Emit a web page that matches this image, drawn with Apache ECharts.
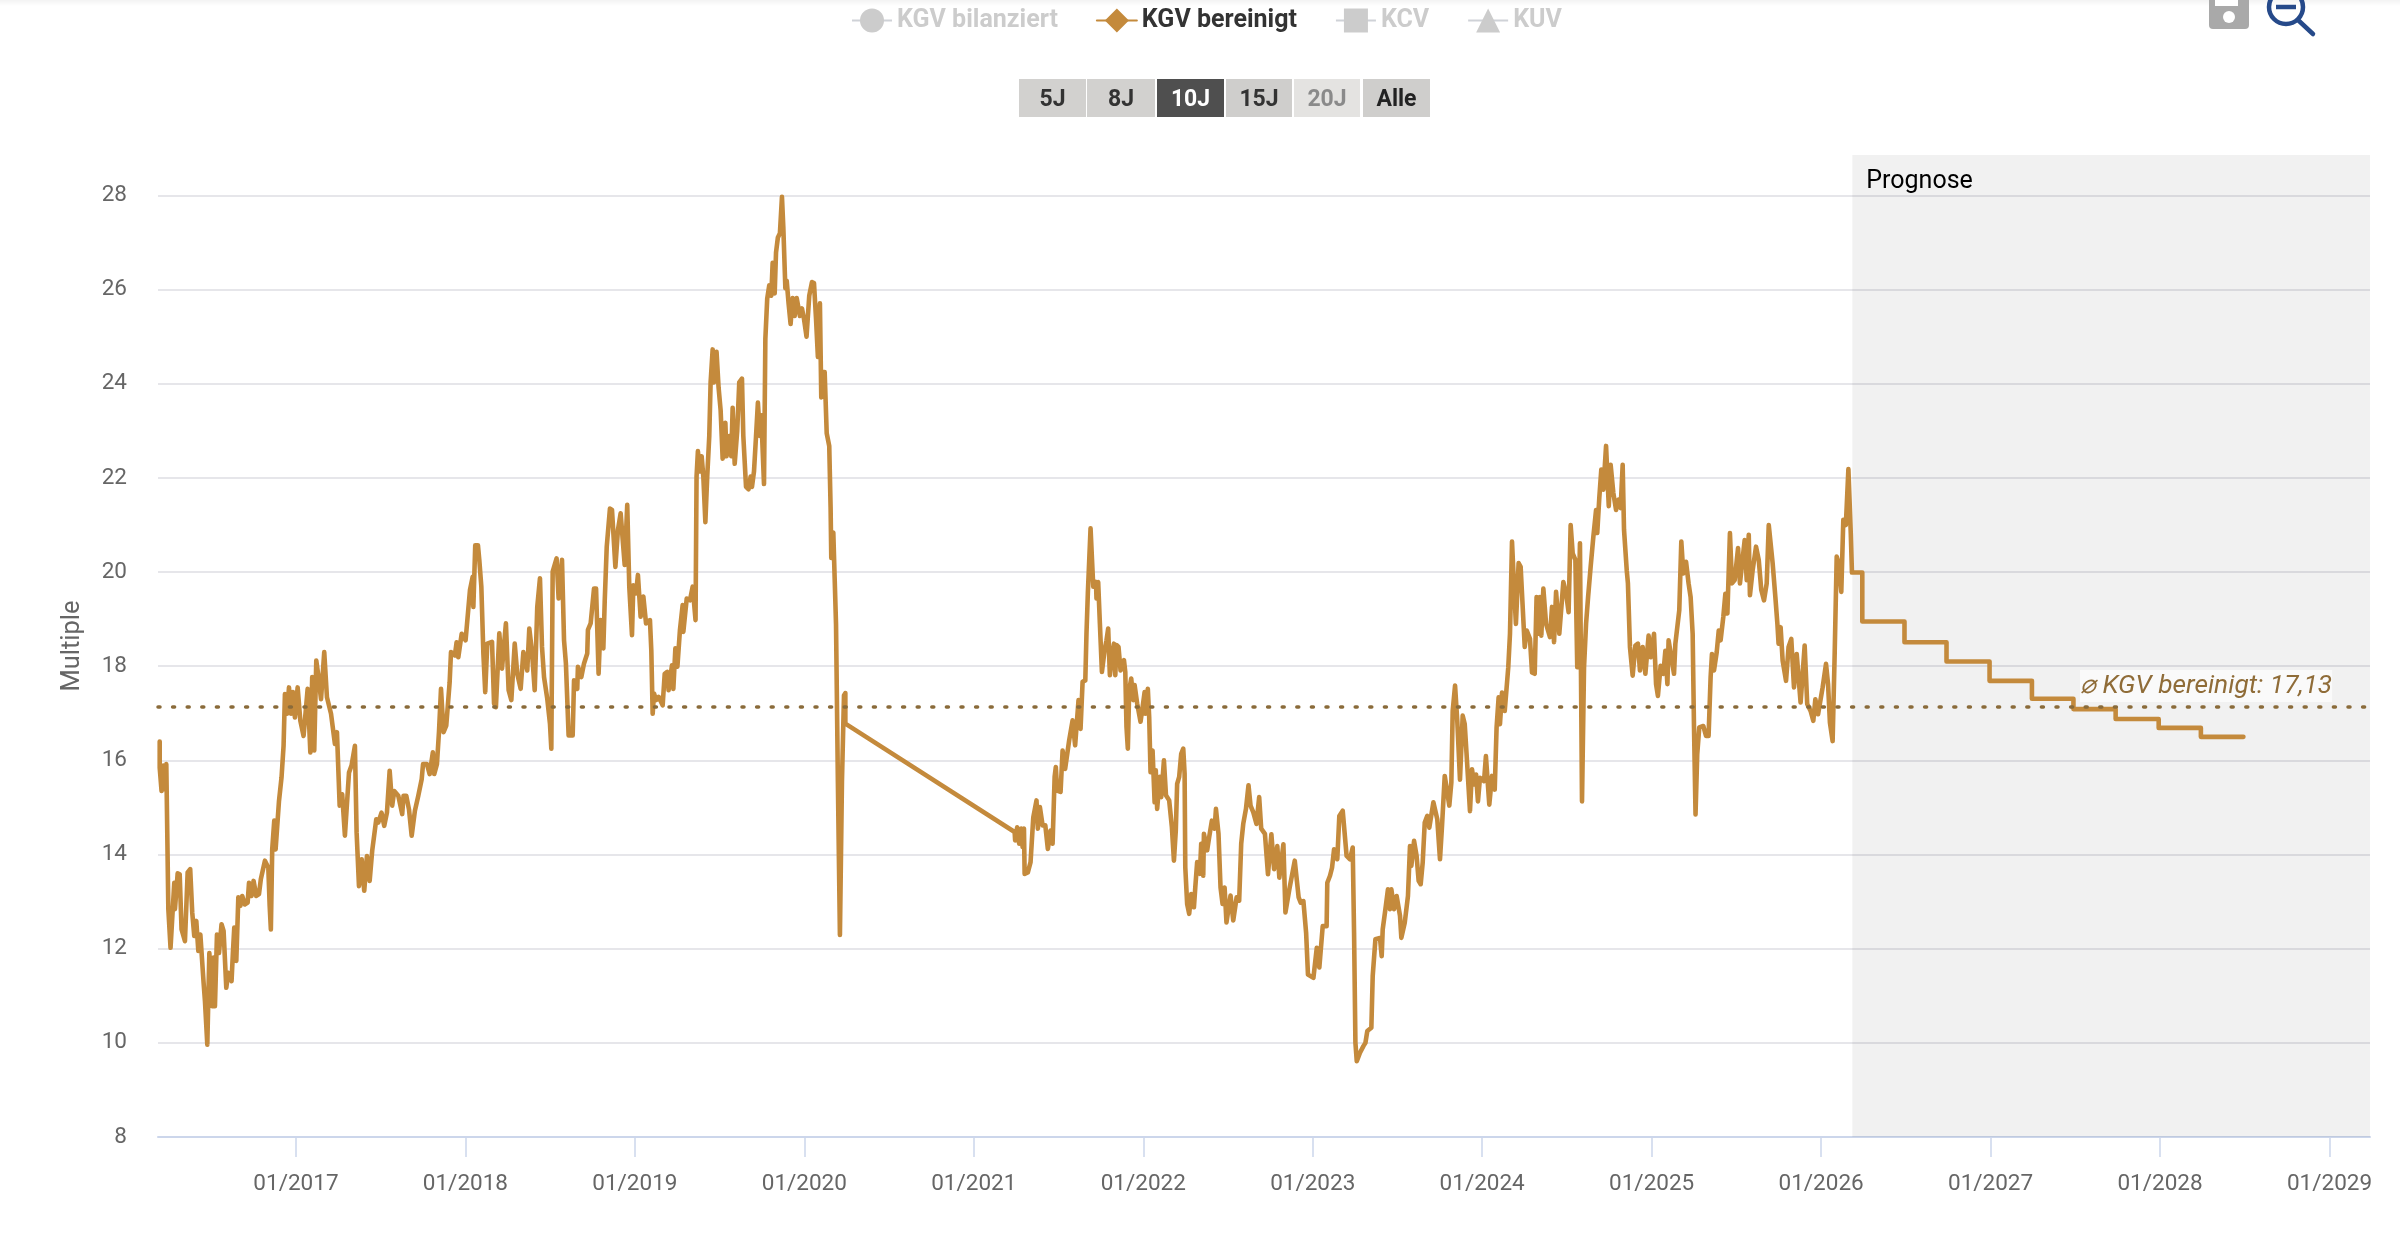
<!DOCTYPE html>
<html><head><meta charset="utf-8">
<script src="https://cdn.jsdelivr.net/npm/echarts@6/dist/echarts.min.js"></script>
<style>html,body{margin:0;padding:0;background:#fff}#c{width:2400px;height:1239px}</style>
</head><body><div id="c"></div>
<script>
const legendNames = ['KGV bilanziert','KGV bereinigt','KCV','KUV'];
const rangeLabels = ['5J','8J','10J','15J','20J','Alle'];
const yearTicks = [2017,2018,2019,2020,2021,2022,2023,2024,2025,2026,2027,2028,2029];
const averageKgv = 17.13;
const forecastStart = 2026.184;
const xMin = 2016.186, xMax = 2029.239;

const kgv2016 = [[2016.196,16.4],[2016.196,15.85],[2016.207,15.35],[2016.217,15.89],[2016.223,15.39],[2016.235,15.92],[2016.243,15.89],[2016.247,12.84],[2016.26,12.02],[2016.27,12.02],[2016.282,13.4],[2016.286,12.84],[2016.302,13.6],[2016.314,13.58],[2016.325,12.41],[2016.345,12.16],[2016.361,13.62],[2016.376,13.69],[2016.388,12.77],[2016.4,12.27],[2016.412,12.59],[2016.424,11.95],[2016.436,12.3],[2016.455,11.28],[2016.463,10.89],[2016.477,9.96],[2016.489,11.91],[2016.506,10.78],[2016.514,11.81],[2016.522,10.78],[2016.534,12.3],[2016.546,11.91],[2016.561,12.52],[2016.573,12.38],[2016.589,11.17],[2016.601,11.49],[2016.62,11.31],[2016.628,11.91],[2016.636,12.45],[2016.648,11.74],[2016.66,13.09],[2016.672,12.91],[2016.683,13.12],[2016.699,12.94],[2016.715,12.98],[2016.723,13.4],[2016.738,13.12],[2016.75,13.44],[2016.766,13.12],[2016.782,13.16],[2016.793,13.48],[2016.817,13.87],[2016.837,13.72],[2016.845,12.91],[2016.852,12.41],[2016.86,14.11],[2016.872,14.72],[2016.88,14.11],[2016.9,15.14],[2016.915,15.64],[2016.927,16.31],[2016.935,17.41],[2016.947,16.99],[2016.959,17.55],[2016.971,16.99],[2016.982,17.45],[2016.994,16.91]];
const kgv2017 = [[2017.01,17.55],[2017.026,16.84],[2017.045,16.52],[2017.069,17.52],[2017.085,16.17],[2017.096,17.77],[2017.108,16.21],[2017.12,18.12],[2017.132,17.8],[2017.148,17.3],[2017.167,18.3],[2017.183,17.34],[2017.207,16.99],[2017.23,16.35],[2017.242,16.6],[2017.258,15.04],[2017.273,15.28],[2017.289,14.4],[2017.313,15.74],[2017.328,15.89],[2017.348,16.31],[2017.358,14.47],[2017.372,13.33],[2017.388,13.9],[2017.403,13.23],[2017.419,13.97],[2017.435,13.44],[2017.45,14.08],[2017.474,14.75],[2017.486,14.68],[2017.505,14.89],[2017.521,14.61],[2017.537,14.89],[2017.553,15.78],[2017.568,15.04],[2017.58,15.35],[2017.604,15.25],[2017.627,14.86],[2017.635,15.25],[2017.651,15.25],[2017.667,14.96],[2017.683,14.4],[2017.702,14.93],[2017.722,15.25],[2017.742,15.6],[2017.75,15.92],[2017.773,15.92],[2017.789,15.71],[2017.808,16.17],[2017.816,15.71],[2017.832,15.92],[2017.844,16.6],[2017.856,17.52],[2017.871,16.6],[2017.887,16.74],[2017.907,17.66],[2017.915,18.3],[2017.938,18.23],[2017.948,18.51],[2017.958,18.19],[2017.978,18.69]];
const kgv2018 = [[2018.001,18.55],[2018.027,19.62],[2018.043,19.9],[2018.047,19.26],[2018.058,20.57],[2018.074,20.57],[2018.082,20.26],[2018.094,19.69],[2018.106,18.27],[2018.117,17.45],[2018.129,18.48],[2018.157,18.52],[2018.169,17.21],[2018.18,17.13],[2018.2,18.7],[2018.216,17.95],[2018.239,18.91],[2018.255,17.49],[2018.271,17.28],[2018.291,18.48],[2018.306,17.84],[2018.326,17.52],[2018.342,18.3],[2018.365,17.91],[2018.377,18.8],[2018.393,18.3],[2018.409,17.49],[2018.424,19.26],[2018.44,19.87],[2018.452,18.41],[2018.464,17.77],[2018.483,17.31],[2018.499,16.78],[2018.507,16.25],[2018.515,20.01],[2018.522,20.01],[2018.538,20.29],[2018.55,19.44],[2018.558,19.4],[2018.57,20.26],[2018.582,18.55],[2018.593,18.06],[2018.609,16.53],[2018.633,16.53],[2018.641,17.7],[2018.66,17.52],[2018.664,17.99],[2018.684,17.77],[2018.7,18.06],[2018.719,18.27],[2018.723,18.77],[2018.739,18.91],[2018.759,19.65],[2018.771,19.65],[2018.786,17.84],[2018.798,18.98],[2018.814,18.38],[2018.822,19.37],[2018.834,20.54],[2018.853,21.35],[2018.865,21.32],[2018.885,20.11],[2018.9,20.89],[2018.916,21.25],[2018.94,20.15],[2018.955,21.43],[2018.967,19.69],[2018.983,18.66],[2018.991,19.72]];
const kgv2019 = [[2019.007,19.55],[2019.018,19.94],[2019.034,19.05],[2019.05,19.48],[2019.066,18.91],[2019.089,18.98],[2019.097,18.34],[2019.105,16.99],[2019.113,17.42],[2019.125,17.28],[2019.14,17.35],[2019.164,17.17],[2019.176,17.84],[2019.191,17.88],[2019.199,17.49],[2019.219,18.02],[2019.227,17.52],[2019.239,18.38],[2019.251,17.99],[2019.266,18.77],[2019.282,19.3],[2019.286,18.73],[2019.306,19.44],[2019.325,19.4],[2019.341,19.69],[2019.358,18.98],[2019.364,22.03],[2019.372,22.57],[2019.384,22.14],[2019.394,22.46],[2019.404,22.03],[2019.416,21.06],[2019.427,22.03],[2019.439,22.89],[2019.447,24.03],[2019.459,24.73],[2019.467,24.03],[2019.482,24.68],[2019.494,23.92],[2019.506,23.44],[2019.518,22.41],[2019.534,23.17],[2019.541,22.46],[2019.557,22.89],[2019.569,22.46],[2019.577,23.49],[2019.589,22.3],[2019.604,23.0],[2019.616,24.03],[2019.632,24.11],[2019.64,22.89],[2019.656,21.81],[2019.671,21.76],[2019.683,22.03],[2019.691,21.81],[2019.703,22.14],[2019.715,22.89],[2019.726,23.6],[2019.738,22.89],[2019.746,23.33],[2019.762,21.87],[2019.77,24.95],[2019.781,25.81],[2019.793,26.09],[2019.805,25.87],[2019.813,26.57],[2019.825,25.92],[2019.833,26.79],[2019.844,27.11],[2019.856,27.2],[2019.868,27.97],[2019.876,27.33],[2019.888,26.03],[2019.896,26.19],[2019.907,25.71],[2019.919,25.27],[2019.931,25.82],[2019.943,25.44],[2019.955,25.82],[2019.974,25.44],[2019.986,25.6],[2019.998,25.38]];
const kgv2020 = [[2020.013,25.0],[2020.029,25.87],[2020.045,26.16],[2020.057,26.14],[2020.069,25.38],[2020.08,24.57],[2020.092,25.71],[2020.1,23.71],[2020.108,24.25],[2020.12,24.25],[2020.132,22.95],[2020.147,22.68],[2020.155,21.38],[2020.159,20.3],[2020.171,20.84],[2020.179,19.87],[2020.187,18.89],[2020.198,15.54],[2020.21,12.29],[2020.222,15.54],[2020.234,17.38],[2020.242,17.43],[2020.242,16.78]];
const kgv2021 = [[2021.241,14.48],[2021.244,14.3],[2021.256,14.58],[2021.268,14.23],[2021.28,14.55],[2021.288,14.16],[2021.296,14.55],[2021.3,13.59],[2021.319,13.62],[2021.335,13.84],[2021.351,14.79],[2021.37,15.15],[2021.378,14.55],[2021.39,15.01],[2021.406,14.62],[2021.422,14.62],[2021.437,14.12],[2021.453,14.51],[2021.465,14.23],[2021.477,15.65],[2021.484,15.86],[2021.492,15.36],[2021.512,15.33],[2021.524,16.21],[2021.539,15.82],[2021.563,16.43],[2021.583,16.85],[2021.598,16.32],[2021.618,17.28],[2021.63,16.67],[2021.642,17.67],[2021.658,17.7],[2021.665,18.7],[2021.673,19.55],[2021.689,20.93],[2021.697,20.93],[2021.705,19.69],[2021.721,19.79],[2021.724,19.44],[2021.734,19.79],[2021.744,18.91],[2021.756,17.88],[2021.772,18.34],[2021.783,18.55],[2021.793,18.8],[2021.803,17.81],[2021.815,18.23],[2021.827,18.48],[2021.835,17.81],[2021.842,18.45],[2021.854,18.41],[2021.866,17.91],[2021.886,18.13],[2021.894,17.88],[2021.901,16.71],[2021.909,16.25],[2021.917,17.49],[2021.929,17.74],[2021.941,17.28],[2021.949,17.6],[2021.964,17.21],[2021.984,16.82],[2021.996,17.13]];
const kgv2022 = [[2022.008,17.45],[2022.012,16.99],[2022.027,17.52],[2022.035,16.92],[2022.043,15.75],[2022.055,16.21],[2022.067,15.11],[2022.074,15.79],[2022.082,14.97],[2022.098,15.65],[2022.106,15.22],[2022.122,16.0],[2022.134,15.26],[2022.153,15.15],[2022.169,14.58],[2022.181,13.87],[2022.192,14.51],[2022.2,15.5],[2022.212,15.65],[2022.224,16.14],[2022.236,16.25],[2022.244,15.72],[2022.248,13.73],[2022.259,12.95],[2022.271,12.74],[2022.283,13.16],[2022.299,12.88],[2022.307,13.3],[2022.318,13.84],[2022.334,13.59],[2022.342,14.23],[2022.354,13.55],[2022.358,14.44],[2022.377,14.09],[2022.389,14.37],[2022.405,14.72],[2022.421,14.55],[2022.429,14.97],[2022.444,14.44],[2022.456,13.3],[2022.468,12.95],[2022.48,13.3],[2022.491,12.56],[2022.515,13.13],[2022.531,12.6],[2022.551,13.09],[2022.566,13.02],[2022.578,14.23],[2022.59,14.65],[2022.606,14.97],[2022.621,15.47],[2022.633,15.04],[2022.649,14.9],[2022.668,14.65],[2022.684,15.22],[2022.696,14.55],[2022.718,14.44],[2022.736,13.58],[2022.756,14.43],[2022.772,13.69],[2022.791,14.18],[2022.803,13.51],[2022.827,14.22],[2022.839,12.77],[2022.862,13.26],[2022.894,13.87],[2022.917,13.09],[2022.929,12.98],[2022.945,13.01],[2022.961,12.34],[2022.972,11.45]];
const kgv2023 = [[2023.004,11.38],[2023.024,12.02],[2023.039,11.6],[2023.059,12.48],[2023.082,12.48],[2023.086,13.4],[2023.102,13.55],[2023.114,13.72],[2023.126,14.11],[2023.145,13.9],[2023.157,14.82],[2023.177,14.93],[2023.2,13.97],[2023.22,13.9],[2023.236,14.15],[2023.244,12.34],[2023.252,10.0],[2023.26,9.61],[2023.279,9.79],[2023.299,9.93],[2023.311,10.0],[2023.322,10.25],[2023.346,10.32],[2023.354,11.42],[2023.37,12.2],[2023.397,12.23],[2023.407,11.84],[2023.413,12.41],[2023.429,12.84],[2023.444,13.26],[2023.456,12.84],[2023.464,13.26],[2023.48,12.84],[2023.495,13.12],[2023.515,12.7],[2023.523,12.23],[2023.543,12.55],[2023.562,13.12],[2023.574,14.18],[2023.582,13.76],[2023.598,14.29],[2023.613,13.97],[2023.625,13.44],[2023.637,13.37],[2023.649,13.83],[2023.661,14.68],[2023.676,14.82],[2023.688,14.57],[2023.712,15.11],[2023.735,14.75],[2023.751,13.9],[2023.763,14.61],[2023.779,15.67],[2023.79,15.67],[2023.806,15.04],[2023.818,15.53],[2023.826,17.05],[2023.84,17.59],[2023.853,16.84],[2023.869,15.59],[2023.885,16.95],[2023.897,16.77],[2023.908,16.13],[2023.928,14.92],[2023.94,15.81],[2023.952,15.49],[2023.964,15.7],[2023.975,15.13],[2023.987,15.63]];
const kgv2024 = [[2024.011,15.56],[2024.022,16.09],[2024.042,15.06],[2024.058,15.67],[2024.074,15.38],[2024.085,16.7],[2024.097,17.34],[2024.105,16.77],[2024.117,17.44],[2024.133,17.05],[2024.154,17.98],[2024.164,18.69],[2024.176,20.65],[2024.188,19.69],[2024.199,18.9],[2024.215,20.19],[2024.227,20.11],[2024.239,19.26],[2024.251,18.41],[2024.263,18.76],[2024.282,18.58],[2024.294,17.87],[2024.31,17.84],[2024.321,19.47],[2024.333,18.69],[2024.341,19.47],[2024.349,18.65],[2024.361,19.65],[2024.377,18.9],[2024.4,18.62],[2024.412,19.26],[2024.424,18.51],[2024.436,19.58],[2024.455,18.69],[2024.479,19.79],[2024.495,19.55],[2024.51,19.15],[2024.522,21.0],[2024.534,20.4],[2024.55,20.26],[2024.561,17.98],[2024.577,20.61],[2024.589,15.13],[2024.601,17.98],[2024.613,18.9],[2024.625,19.47],[2024.64,20.11],[2024.656,20.75],[2024.672,21.32],[2024.679,20.83],[2024.691,21.57],[2024.703,22.18],[2024.715,21.75],[2024.731,22.68],[2024.747,21.4],[2024.758,22.28],[2024.774,21.68],[2024.79,21.32],[2024.805,21.54],[2024.817,21.36],[2024.829,22.28],[2024.837,20.9],[2024.853,20.04],[2024.86,19.76],[2024.872,18.41],[2024.888,17.8],[2024.904,18.44],[2024.919,18.48],[2024.931,17.91],[2024.947,18.41],[2024.963,17.84],[2024.982,18.65],[2024.994,18.19]];
const kgv2025 = [[2025.014,18.69],[2025.026,17.62],[2025.037,17.37],[2025.053,18.01],[2025.069,17.84],[2025.081,18.33],[2025.093,17.62],[2025.1,18.55],[2025.116,18.2],[2025.132,17.84],[2025.14,18.48],[2025.163,19.19],[2025.175,20.65],[2025.187,19.97],[2025.203,20.22],[2025.218,19.76],[2025.23,19.47],[2025.242,18.69],[2025.25,16.7],[2025.259,14.85],[2025.269,16.13],[2025.281,16.7],[2025.305,16.73],[2025.321,16.52],[2025.336,16.52],[2025.348,17.77],[2025.356,18.26],[2025.368,17.91],[2025.384,18.3],[2025.396,18.76],[2025.407,18.55],[2025.423,19.05],[2025.435,19.54],[2025.447,19.12],[2025.462,20.83],[2025.474,19.76],[2025.49,19.83],[2025.51,20.51],[2025.521,19.76],[2025.549,20.68],[2025.561,19.83],[2025.573,20.79],[2025.58,19.51],[2025.596,20.04],[2025.616,20.54],[2025.632,20.26],[2025.647,19.62],[2025.663,19.4],[2025.679,19.76],[2025.691,21.0],[2025.702,21.0],[2025.714,20.19],[2025.73,19.47],[2025.742,18.9],[2025.749,18.48],[2025.761,18.83],[2025.773,18.12],[2025.793,17.69],[2025.808,18.41],[2025.824,18.58],[2025.84,17.55],[2025.856,18.26],[2025.864,17.9],[2025.879,17.23],[2025.903,18.44],[2025.918,17.2],[2025.938,17.05],[2025.954,16.84],[2025.966,17.3],[2025.982,16.98],[2025.993,16.95]];
const kgv2026 = [[2026.009,17.55],[2026.029,18.05],[2026.041,17.62],[2026.052,16.8],[2026.068,16.41],[2026.08,18.26],[2026.092,20.33],[2026.104,20.19],[2026.119,19.58],[2026.131,21.11],[2026.146,21.0],[2026.161,22.19],[2026.175,20.83],[2026.182,19.99]];
const kgvForecast = [[2026.243,19.99],[2026.243,18.95],[2026.492,18.95],[2026.492,18.51],[2026.74,18.51],[2026.74,18.1],[2026.994,18.1],[2026.994,17.69],[2027.244,17.69],[2027.244,17.31],[2027.489,17.31],[2027.489,17.09],[2027.738,17.09],[2027.738,16.88],[2027.992,16.88],[2027.992,16.69],[2028.241,16.69],[2028.241,16.5],[2028.492,16.5]];

const kgvBereinigt = [].concat(kgv2016,kgv2017,kgv2018,kgv2019,kgv2020,kgv2021,kgv2022,kgv2023,kgv2024,kgv2025,kgv2026,kgvForecast);

const gold = '#c48a3c';
const chart = echarts.init(document.getElementById('c'));
const font = 'Roboto';

const btnBoxes = [[1019,67,'#d2d1cf','#333'],[1087,68,'#d2d1cf','#333'],[1157,67,'#4f4f4f','#fff'],[1226,66,'#cfcecc','#333'],[1294,66,'#e4e3e1','#8a8a8a'],[1363,67,'#cfcecc','#222']];
const graphics = [
  {type:'rect',left:0,top:0,shape:{width:2400,height:6},style:{fill:new echarts.graphic.LinearGradient(0,0,0,1,[{offset:0,color:'#f3f3f3'},{offset:1,color:'#ffffff'}])},silent:true}
];
rangeLabels.forEach((t,i)=>{
  const b=btnBoxes[i];
  graphics.push({type:'rect',left:b[0],top:79,shape:{width:b[1],height:38},style:{fill:b[2]},silent:true});
  graphics.push({type:'text',x:b[0]+b[1]/2,y:100,style:{text:t,fill:b[3],font:'bold 23px '+font,textAlign:'center',textVerticalAlign:'middle'},silent:true});
});
graphics.push(
  {type:'rect',shape:{x:2209,y:-12,width:40,height:41,r:4},style:{fill:'#a9a9a9'},silent:true},
  {type:'rect',shape:{x:2215,y:-6,width:23,height:12},style:{fill:'#ffffff'},silent:true},
  {type:'circle',shape:{cx:2229,cy:17,r:6},style:{fill:'#ffffff'},silent:true},
  {type:'circle',shape:{cx:2286,cy:7,r:17},style:{fill:'none',stroke:'#264a8a',lineWidth:4.5},silent:true},
  {type:'line',shape:{x1:2276,y1:7,x2:2296,y2:7},style:{stroke:'#264a8a',lineWidth:4.5},silent:true},
  {type:'line',shape:{x1:2298,y1:20,x2:2313,y2:34},style:{stroke:'#264a8a',lineWidth:4.5,lineCap:'round'},silent:true},
  {type:'text',x:2080,y:686,z:50,style:{text:'\u2300 KGV bereinigt: 17,13',fill:'#8f6c38',font:'italic 26.3px '+font,textAlign:'left',textVerticalAlign:'middle',backgroundColor:'rgba(255,255,255,0.65)',padding:[3,0]},silent:true}
);

chart.setOption({
  animation:false,
  backgroundColor:'#fff',
  textStyle:{fontFamily:font},
  graphic:graphics,
  legend:{
    data:legendNames,left:846,top:3,itemWidth:40,itemHeight:30,itemGap:38,
    selected:{'KGV bilanziert':false,'KGV bereinigt':true,'KCV':false,'KUV':false},
    inactiveColor:'#cccccc',
    textStyle:{fontFamily:font,fontSize:25,fontWeight:'bold',color:'#333'}
  },
  grid:{left:158,right:30,top:155,bottom:102},
  xAxis:{
    type:'value',min:xMin,max:xMax,splitLine:{show:false},
    axisLine:{show:true,lineStyle:{color:'#ccd6eb',width:2}},
    axisTick:{show:true,customValues:yearTicks,length:20,lineStyle:{color:'#ccd6eb',width:1.5}},
    axisLabel:{customValues:yearTicks,formatter:v=>'01/'+Math.round(v),color:'#666',fontSize:22.5,fontFamily:font,margin:36}
  },
  yAxis:{
    type:'value',min:8,max:28.86,interval:2,name:'Multiple',nameLocation:'middle',nameGap:72,
    nameTextStyle:{color:'#666',fontSize:25.5,fontFamily:font},
    axisLine:{show:false},axisTick:{show:false},
    axisLabel:{color:'#666',fontSize:22.5,fontFamily:font,margin:31,showMaxLabel:false},
    splitLine:{show:true,showMaxLine:false,showMinLine:false,lineStyle:{color:'#e6e6ea',width:2}}
  },
  series:[
    {name:'KGV bilanziert',type:'line',symbol:'circle',data:[]},
    {name:'KGV bereinigt',type:'line',symbol:'diamond',showSymbol:false,data:kgvBereinigt,
     itemStyle:{color:gold},z:3,
     lineStyle:{color:gold,width:4.6,join:'round',cap:'round'},
     markArea:{silent:true,itemStyle:{color:'rgba(0,0,0,0.055)'},
       label:{show:true,position:'insideTopLeft',distance:14,color:'#000',fontSize:25,fontFamily:font,formatter:'Prognose'},
       data:[[{xAxis:forecastStart},{xAxis:xMax}]]},
     markLine:{silent:true,symbol:'none',label:{show:false},z:6,
       lineStyle:{color:'#8a6b3a',width:3.5,type:[2,12.6],cap:'round'},
       data:[{yAxis:averageKgv}]}
    },
    {name:'KCV',type:'line',symbol:'rect',data:[]},
    {name:'KUV',type:'line',symbol:'triangle',data:[]}
  ]
});
</script></body></html>
